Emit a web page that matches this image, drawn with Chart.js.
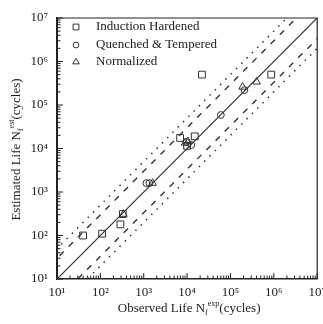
<!DOCTYPE html>
<html><head><meta charset="utf-8">
<script src="https://cdn.jsdelivr.net/npm/chart.js@4.4.1/dist/chart.umd.min.js"></script>
<style>html,body{margin:0;padding:0;background:#fff;overflow:hidden;}canvas{display:block;}</style>
</head><body>
<canvas id="c" width="323" height="324"></canvas>
<script>
// ---- data ----
const ihX = [40, 110, 290, 330, 6900, 15000, 10000, 22000, 870000];
const ihY = [100, 110, 180, 310, 17500, 19000, 11500, 500000, 500000];
const qtX = [1150, 1350, 12500, 9500, 60000, 210000];
const qtY = [1600, 1600, 12000, 14000, 59000, 220000];
const nmX = [1600, 340, 9000, 10500, 190000, 400000];
const nmY = [1600, 310, 13500, 14500, 260000, 340000];
const seriesNames = ['Induction Hardened', 'Quenched & Tempered', 'Normalized'];
const bandFactors = [1, 3, 1/3, 5, 1/5];
const axisMin = 10, axisMax = 1e7;

const sup = {'0':'⁰','1':'¹','2':'²','3':'³','4':'⁴','5':'⁵','6':'⁶','7':'⁷','8':'⁸','9':'⁹'};
const FONT = '"Liberation Serif", "Times New Roman", serif';
const INK = '#222';

function pts(xs, ys){ return xs.map((x,i)=>({x:x, y:ys[i]})); }
function lineFor(f){ return [{x:1, y:1*f}, {x:1e8, y:1e8*f}]; }

const lineStyles = {1:{dash:[], w:1.2}, 3:{dash:[6,7], w:1.4}, 5:{dash:[1.5,6], w:1.5}};
const datasets = [];
bandFactors.forEach(f=>{
  const key = f>=1 ? f : Math.round(1/f);
  const st = lineStyles[key];
  datasets.push({type:'line', data: lineFor(f), borderColor:'#333', borderWidth: st.w, borderDash: st.dash,
    pointRadius:0, fill:false, showLine:true, order:2});
});
const markerDefs = [
  {style:'rect', r:4.8},
  {style:'circle', r:3.4},
  {style:'triangle', r:4.4}
];
[[ihX,ihY],[qtX,qtY],[nmX,nmY]].forEach((s,i)=>{
  datasets.push({type:'scatter', label: seriesNames[i], data: pts(s[0], s[1]),
    pointStyle: markerDefs[i].style, pointRadius: markerDefs[i].r, pointBorderColor:'#333',
    pointBackgroundColor:'rgba(0,0,0,0)', pointBorderWidth:1, showLine:false, order:1});
});

function tickLabel(v){
  const l = Math.log10(v);
  if (Math.abs(l - Math.round(l)) > 1e-6) return '';
  return '10' + String(Math.round(l)).split('').map(c=>sup[c]).join('');
}

function drawRich(ctx, parts, x, y, align){
  let total = 0;
  parts.forEach(p=>{ ctx.font = p.size + 'px ' + FONT; p.w = ctx.measureText(p.t).width; total += p.w; });
  let cx = align === 'center' ? x - total/2 : x;
  parts.forEach(p=>{ ctx.font = p.size + 'px ' + FONT; ctx.fillText(p.t, cx, y + p.dy); cx += p.w; });
}

const deco = {
  id:'deco',
  afterDraw(chart){
    const ctx = chart.ctx, a = chart.chartArea;
    const xs = chart.scales.x, ys = chart.scales.y;
    ctx.save();
    // frame top/right
    ctx.strokeStyle = '#222'; ctx.lineWidth = 1.2;
    ctx.beginPath(); ctx.moveTo(a.left, a.top); ctx.lineTo(a.right, a.top); ctx.lineTo(a.right, a.bottom); ctx.stroke();
    // inward ticks
    ctx.lineWidth = 1;
    for (let d=1; d<=7; d++){
      for (let m=1; m<=9; m++){
        const v = m*Math.pow(10,d);
        if (v > axisMax*1.0001) break;
        const len = m===1 ? 6 : 3.5;
        const px = xs.getPixelForValue(v);
        ctx.beginPath(); ctx.moveTo(px, a.bottom); ctx.lineTo(px, a.bottom - len); ctx.stroke();
        const py = ys.getPixelForValue(v);
        ctx.beginPath(); ctx.moveTo(a.left, py); ctx.lineTo(a.left + len, py); ctx.stroke();
      }
    }
    // legend
    ctx.textBaseline = 'middle'; ctx.textAlign = 'left';
    const rows = [27, 45, 62];
    markerDefs.forEach((m,i)=>{
      ctx.fillStyle = 'rgba(0,0,0,0)';
      ctx.strokeStyle = '#333'; ctx.lineWidth = 1;
      Chart.helpers.drawPoint(ctx, {pointStyle: m.style, radius: m.r*0.85, rotation:0, borderWidth:1}, 76, rows[i]);
      ctx.fillStyle = INK;
      ctx.font = '13px ' + FONT;
      ctx.fillText(seriesNames[i], 96, rows[i]);
    });
    // axis titles
    ctx.fillStyle = INK;
    ctx.textBaseline = 'alphabetic';
    drawRich(ctx, [
      {t:'Observed Life N', size:13, dy:0},
      {t:'f', size:8, dy:3},
      {t:'exp', size:8, dy:-6},
      {t:'(cycles)', size:13, dy:0}
    ], (a.left + a.right)/2 + 2, 312, 'center');
    ctx.translate(20, (a.top + a.bottom)/2 + 1);
    ctx.rotate(-Math.PI/2);
    drawRich(ctx, [
      {t:'Estimated Life N', size:13, dy:0},
      {t:'f', size:8, dy:3},
      {t:'est', size:8, dy:-6},
      {t:'(cycles)', size:13, dy:0}
    ], 0, 0, 'center');
    ctx.restore();
  }
};

const tickFont = {family: FONT, size: 13};
new Chart(document.getElementById('c'), {
  type:'scatter',
  data:{datasets},
  options:{
    responsive:false, animation:false, devicePixelRatio:1,
    layout:{padding:{top:18, right:4, left:0, bottom:0}},
    plugins:{legend:{display:false}, tooltip:{enabled:false}},
    scales:{
      x:{type:'logarithmic', min:axisMin, max:axisMax,
        grid:{display:false, drawTicks:false},
        border:{display:true, color:'#222', width:1.6},
        ticks:{callback:tickLabel, autoSkip:false, maxRotation:0, color:INK, font:tickFont, padding:6},
        afterFit(s){ s.height = 45; s.paddingLeft = 0; s.paddingRight = 0; }
      },
      y:{type:'logarithmic', min:axisMin, max:axisMax,
        grid:{display:false, drawTicks:false},
        border:{display:true, color:'#222', width:2},
        ticks:{callback:tickLabel, autoSkip:false, color:INK, font:tickFont, padding:9},
        afterFit(s){ s.width = 57; s.paddingTop = 0; s.paddingBottom = 0; }
      }
    }
  },
  plugins:[deco]
});
</script>
</body></html>
